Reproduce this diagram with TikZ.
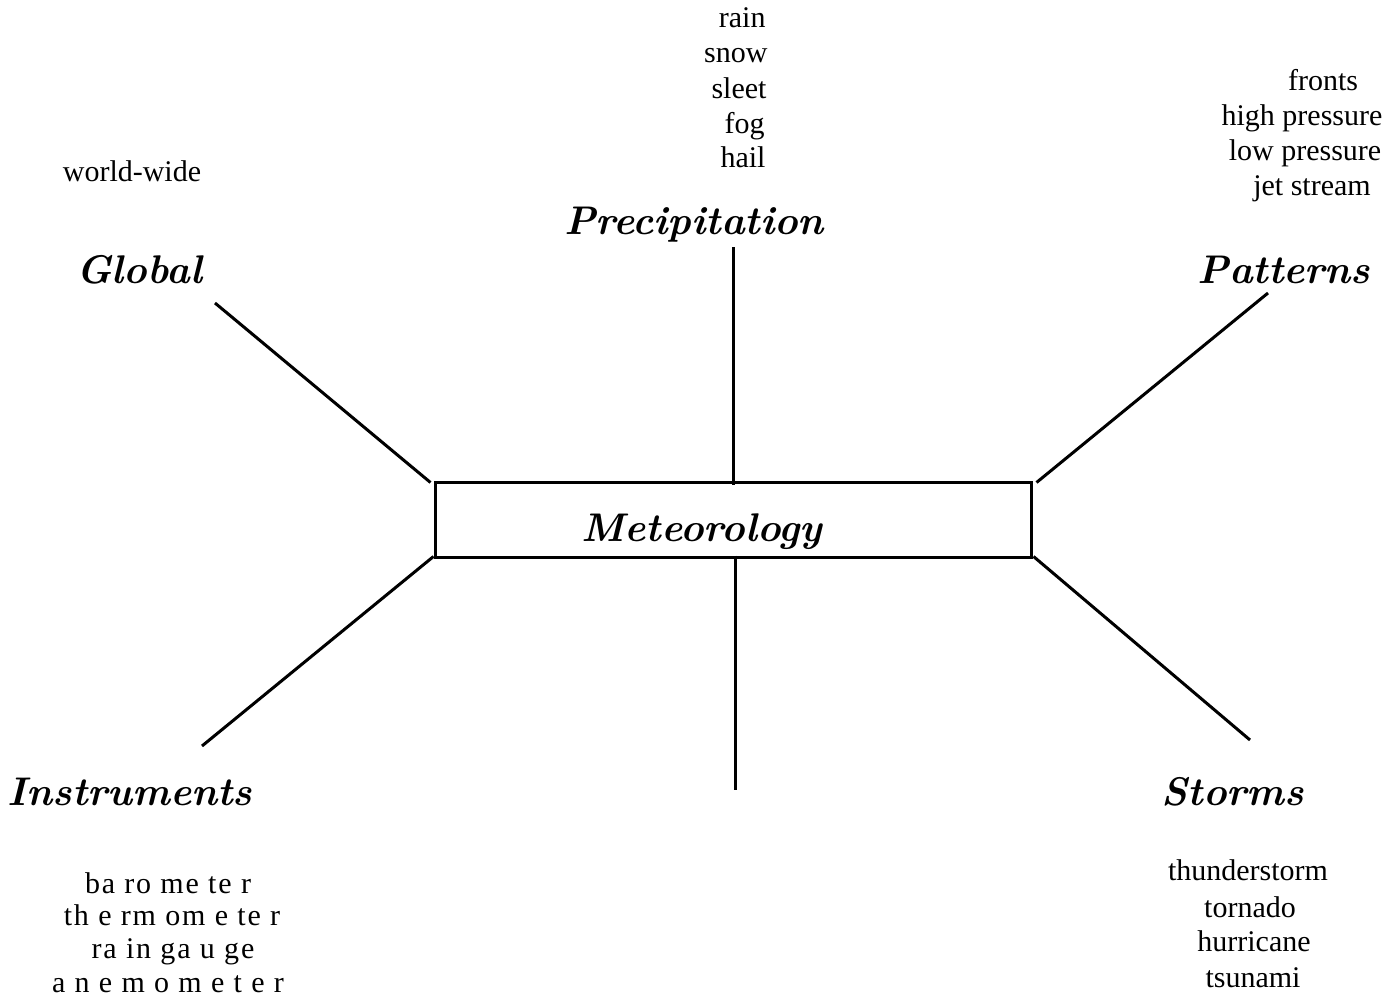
\documentclass[tikz,border=0pt]{standalone}
\usepackage{fontspec}
\setmainfont{Liberation Serif}
\newfontfamily\scriptlike{Latin Modern Roman}
\begin{document}
\begin{tikzpicture}[x=1pt,y=-1pt,
  line width=3pt,
  body/.style={font=\fontsize{30}{36}\selectfont, inner sep=0pt, anchor=base},
  spaced/.style={body, font=\fontsize{30}{36}\selectfont\addfontfeature{LetterSpace=6}},
  title/.style={font=\scriptlike\fontsize{40}{48}\selectfont\bfseries\itshape, inner sep=0pt, anchor=base},
  conn/.style={line width=3pt}]
\useasboundingbox (0,0) rectangle (1392,1003);
\node[draw, line width=3pt, minimum width=596pt, minimum height=75pt, inner sep=0pt] (box) at (733,519.5) {};
\node[title] (met) at (702,541) {Meteorology};
% titles
\node[title] (glob) at (139,283) {Global};
\node[title] (prec) at (694,235) {Precipitation};
\node[title] (patt) at (1284,283) {Patterns};
\node[title] (inst) at (130,805) {Instruments};
\node[title] (stor) at (1233,805) {Storms};
% free ends
\coordinate (g1) at (215,303);
\coordinate (p1) at (733,247);
\coordinate (t1) at (1268,293);
\coordinate (i1) at (202,746);
\coordinate (b1) at (735,790);
\coordinate (s1) at (1250,740);
\draw[conn] ([shift={(-3pt,-2pt)}]box.north west) -- (g1);
\draw[conn] ([yshift=-4pt]box.north) -- (p1);
\draw[conn] ([shift={(4pt,-2pt)}]box.north east) -- (t1);
\draw[conn] ([shift={(0pt,2pt)}]box.south west) -- (i1);
\draw[conn] ([shift={(2pt,3pt)}]box.south) -- (b1);
\draw[conn] ([shift={(1pt,2pt)}]box.south east) -- (s1);
% world-wide
\node[body] (ww) at (132,182) {world-wide};
% precipitation list
\node[body, anchor=base east] (r1) at (767,28) {rain};
\node[body, anchor=base east] (r2) at (769,63) {snow};
\node[body, anchor=base east] (r3) at (768,99) {sleet};
\node[body, anchor=base east] (r4) at (766,134) {fog};
\node[body, anchor=base east] (r5) at (767,168) {hail};
% patterns list
\node[body] (f1) at (1323,91) {fronts};
\node[body] (f2) at (1302,126) {high pressure};
\node[body] (f3) at (1305,161) {low pressure};
\node[body] (f4) at (1312,196) {jet stream};
% storms list
\node[body] (s1t) at (1248,880) {thunderstorm};
\node[body] (s2t) at (1250,917) {tornado};
\node[body] (s3t) at (1254,951) {hurricane};
\node[body] (s4t) at (1253,987) {tsunami};
% instruments list
\node[spaced] (n1) at (168,893) {ba ro me te r};
\node[spaced] (n2) at (172,925) {th e rm om e te r};
\node[spaced] (n3) at (173,958) {ra in ga u ge};
\node[spaced] (n4) at (168,992) {a n e m o m e t e r};
\end{tikzpicture}
\end{document}
